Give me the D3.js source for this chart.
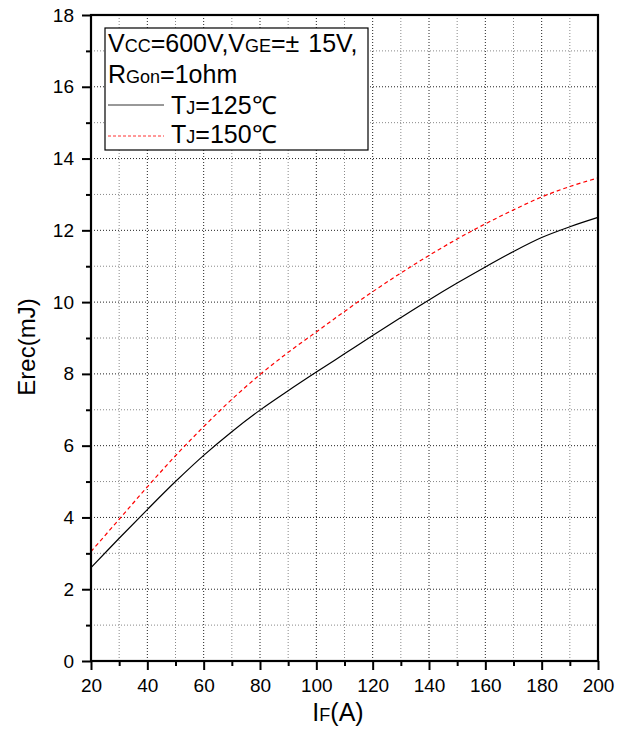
<!DOCTYPE html>
<html><head><meta charset="utf-8">
<script src="https://cdn.jsdelivr.net/npm/d3@7"></script>
<style>
html,body{margin:0;padding:0;background:#fff;}
text{font-family:"Liberation Sans",Arial,sans-serif;fill:#000;}
</style></head>
<body><svg id="chart" width="625" height="731"></svg>
<script>
const currentA = [20,30,40,50,60,70,80,90,100,110,120,130,140,150,160,170,180,190,200];
const erec125 = [2.6,3.42,4.22,5.0,5.73,6.39,6.99,7.53,8.05,8.56,9.07,9.57,10.06,10.53,10.98,11.41,11.8,12.1,12.36];
const erec150 = [3.05,3.95,4.85,5.72,6.53,7.29,7.98,8.6,9.17,9.74,10.29,10.81,11.3,11.76,12.18,12.57,12.93,13.22,13.46];
const xTicks = [20,40,60,80,100,120,140,160,180,200];
const yTicks = [0,2,4,6,8,10,12,14,16,18];
const xMinor = [30,50,70,90,110,130,150,170,190];
const yMinor = [1,3,5,7,9,11,13,15,17];

const svg = d3.select("#chart");
const L=91, R=598, T=15, B=661;
const x = d3.scaleLinear().domain([20,200]).range([L,R]);
const y = d3.scaleLinear().domain([0,18]).range([B,T]);

// grid
const g = svg.append("g");
g.selectAll(".vmin").data(xMinor).enter().append("line")
  .attr("x1",d=>x(d)).attr("x2",d=>x(d)).attr("y1",T).attr("y2",B)
  .attr("stroke","#888").attr("stroke-width",1).attr("stroke-dasharray","1,2");
g.selectAll(".hmin").data(yMinor).enter().append("line")
  .attr("x1",L).attr("x2",R).attr("y1",d=>y(d)).attr("y2",d=>y(d))
  .attr("stroke","#888").attr("stroke-width",1).attr("stroke-dasharray","1,2");
g.selectAll(".vmaj").data(xTicks.slice(1,-1)).enter().append("line")
  .attr("x1",d=>x(d)).attr("x2",d=>x(d)).attr("y1",T).attr("y2",B)
  .attr("stroke","#222").attr("stroke-width",1).attr("stroke-dasharray","1,2");
g.selectAll(".hmaj").data(yTicks.slice(1,-1)).enter().append("line")
  .attr("x1",L).attr("x2",R).attr("y1",d=>y(d)).attr("y2",d=>y(d))
  .attr("stroke","#222").attr("stroke-width",1).attr("stroke-dasharray","1,2");

// curves
const line = (arr)=>d3.line().x((d,i)=>x(currentA[i])).y(d=>y(d)).curve(d3.curveCatmullRom.alpha(0.5))(arr);
svg.append("path").attr("d",line(erec150)).attr("fill","none").attr("stroke","#ff0000")
  .attr("stroke-width",1.2).attr("stroke-dasharray","4,3");
svg.append("path").attr("d",line(erec125)).attr("fill","none").attr("stroke","#000")
  .attr("stroke-width",1.2);

// axes
const xAxis = d3.axisBottom(x).tickValues(xTicks).tickSize(9).tickPadding(9).tickFormat(d3.format("d"));
const gx = svg.append("g").attr("transform",`translate(0,${B})`).call(xAxis);
const yAxis = d3.axisLeft(y).tickValues(yTicks).tickSize(9).tickPadding(8).tickFormat(d3.format("d"));
const gy = svg.append("g").attr("transform",`translate(${L},0)`).call(yAxis);
[gx,gy].forEach(a=>{
  a.select(".domain").remove();
  a.selectAll(".tick line").attr("stroke","#000").attr("stroke-width",2);
  a.selectAll(".tick text").attr("font-size",19).attr("font-family","Liberation Sans, Arial, sans-serif").attr("fill","#000");
});
svg.append("g").attr("transform",`translate(0,${B})`)
  .call(d3.axisBottom(x).tickValues(xMinor).tickSize(5).tickFormat(""))
  .call(a=>{a.select(".domain").remove();a.selectAll(".tick line").attr("stroke","#000").attr("stroke-width",2);});
svg.append("g").attr("transform",`translate(${L},0)`)
  .call(d3.axisLeft(y).tickValues(yMinor).tickSize(5).tickFormat(""))
  .call(a=>{a.select(".domain").remove();a.selectAll(".tick line").attr("stroke","#000").attr("stroke-width",2);});

// frame
svg.append("rect").attr("x",L).attr("y",T).attr("width",R-L).attr("height",B-T)
  .attr("fill","none").attr("stroke","#000").attr("stroke-width",2.2);

// axis titles
svg.append("text").attr("transform",`translate(35,347) rotate(-90)`).attr("text-anchor","middle")
  .attr("font-size",24).text("Erec(mJ)");
const xt = svg.append("text").attr("x",338).attr("y",721).attr("text-anchor","middle").attr("font-size",25);
xt.append("tspan").text("I");
xt.append("tspan").attr("font-size",18).text("F");
xt.append("tspan").text("(A)");

// legend
const lg = svg.append("g");
lg.append("rect").attr("x",105).attr("y",28).attr("width",263).attr("height",122)
  .attr("fill","#fff").attr("stroke","#000").attr("stroke-width",1.2);
function rich(xp, yp, parts){
  const t = lg.append("text").attr("x",xp).attr("y",yp).attr("font-size",25);
  parts.forEach(p=>{
    const s = t.append("tspan").attr("font-size",p[1]?18:25).text(p[0]);
    if(p[2]) s.attr("dx",p[2]);
  });
  return t;
}
rich(108,52,[["V"],["CC",1],["=600V,V"],["GE",1],["=±"],[" 15V,",0,2]]);
rich(108,83,[["R"],["Gon",1],["=1ohm"]]);
rich(171,114,[["T"],["J",1],["=125℃"]]);
rich(171,143,[["T"],["J",1],["=150℃"]]);
lg.append("line").attr("x1",108).attr("x2",164).attr("y1",105).attr("y2",105)
  .attr("stroke","#333").attr("stroke-width",1);
lg.append("line").attr("x1",108).attr("x2",164).attr("y1",136).attr("y2",136)
  .attr("stroke","#ff3333").attr("stroke-width",1).attr("stroke-dasharray","3,2");
</script></body></html>
